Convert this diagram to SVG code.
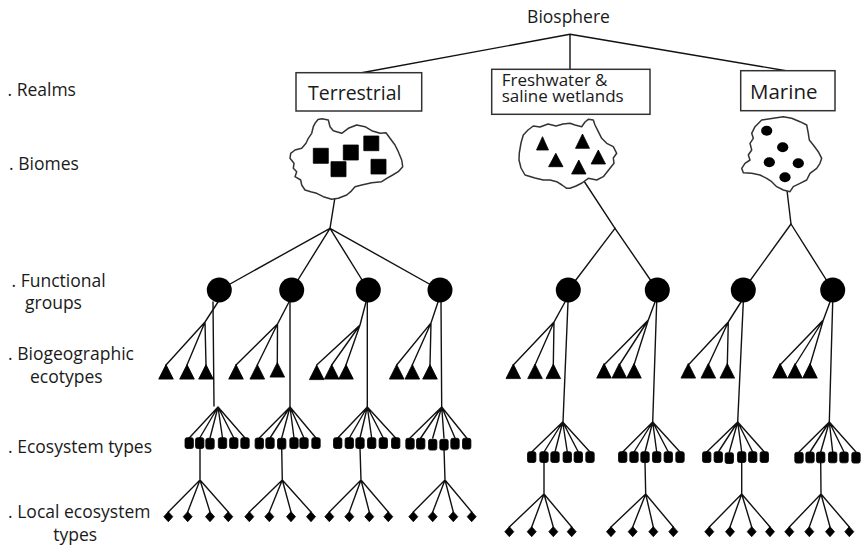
<svg xmlns="http://www.w3.org/2000/svg" width="867" height="547" viewBox="0 0 867 547">
<style>
.ln{stroke:#111;stroke-width:1.4;fill:none;stroke-linecap:round}
.box{fill:#fff;stroke:#333;stroke-width:1.5}
.cloud{fill:#fff;stroke:#333;stroke-width:1.5;stroke-linejoin:round}
.blk{fill:#000;stroke:#000;stroke-width:0.8;stroke-linejoin:round}
text{font-family:"Open Sans","Liberation Sans",sans-serif;fill:#1a1a1a}
.lbl{font-size:17.5px}
</style>
<defs>
<path id="tri" d="M0,0 L7.3,14.6 L-7.3,14.6 Z"/>
<rect id="sq" x="-4.2" y="0" width="8.4" height="10.8" rx="2"/>
<path id="dm" d="M0,0 L4.5,5 L0,10 L-4.5,5 Z"/>
</defs>

<g id="connectors" class="ln">
<path d="M570,34.3 L361.7,72.7 M570,34.3 L570,69.3 M570,34.3 L786,70.7"/>
<path d="M338.3,176.7 L330,228.3 M580,175 L615,228.3 M786,182 L791,224"/>
<path d="M330,228.3 L219.3,290 M330,228.3 L291.7,290 M330,228.3 L368.3,290 M330,228.3 L440,290"/>
<path d="M615,228.3 L568.3,290 M615,228.3 L657.3,290 M791,224 L743.3,290 M791,224 L832.7,290"/>
<path d="M218,302 L205,322 L166,365 M205,322 L187,365 M205,322 L206,365"/>
<path d="M289,302 L277.5,324 L236,365 M277.5,324 L257.3,365 M277.5,324 L277.3,363"/>
<path d="M366,302 L360,325 L316.7,365 M360,325 L331.7,365 M360,325 L346,365"/>
<path d="M438,302 L431,323 L396.7,365 M431,323 L412.3,365 M431,323 L430,365"/>
<path d="M565,302 L554,322 L513.3,365 M554,322 L535,365 M554,322 L553.3,365"/>
<path d="M655,302 L648.3,320 L604,365 M648.3,320 L619.3,365 M648.3,320 L634,365"/>
<path d="M741,302 L728.3,322 L688.3,365 M728.3,322 L708.3,365 M728.3,322 L727.3,365"/>
<path d="M830,302 L823.3,320 L780,365 M823.3,320 L795,365 M823.3,320 L810,365"/>
<path d="M213,302 L214,406 M290,302 L290,407 M367.3,302 L367.3,407 M441,302 L441.7,407 M568,302 L563,422 M656.7,302 L652.7,422 M743.3,302 L737.7,422 M832.7,302 L829.3,422"/>
<path d="M218,407 L189.2,438 M218,407 L199.7,438 M218,407 L210,438 M218,407 L222.5,438 M218,407 L233.8,438 M218,407 L245,438"/>
<path d="M290,407 L259.3,438 M290,407 L270,438 M290,407 L281.7,438 M290,407 L294,438 M290,407 L304,438 M290,407 L316,438"/>
<path d="M367.3,407 L337.7,438 M367.3,407 L349.3,438 M367.3,407 L360,438 M367.3,407 L371.7,438 M367.3,407 L383.3,438 M367.3,407 L395.7,438"/>
<path d="M441.7,407 L410,438 M441.7,407 L420.7,438 M441.7,407 L432.7,438 M441.7,407 L444,438 M441.7,407 L455,438 M441.7,407 L466.7,438"/>
<path d="M562.7,422 L531.7,452 M562.7,422 L544,452 M562.7,422 L555,452 M562.7,422 L567.3,452 M562.7,422 L578.3,452 M562.7,422 L590,452"/>
<path d="M652.7,422 L622.7,452 M652.7,422 L634,452 M652.7,422 L645,452 M652.7,422 L656.7,452 M652.7,422 L668.3,452 M652.7,422 L680,452"/>
<path d="M737.7,422 L706.7,452 M737.7,422 L718.3,452 M737.7,422 L729.3,452 M737.7,422 L741.7,452 M737.7,422 L752.7,452 M737.7,422 L764.3,452"/>
<path d="M829.3,422 L799,452 M829.3,422 L810,452 M829.3,422 L820.7,452 M829.3,422 L832.7,452 M829.3,422 L844,452 M829.3,422 L856,452"/>
<path d="M200,448 L200,480 L168.3,512 M200,480 L187.7,512 M200,480 L210,512 M200,480 L228.3,512"/>
<path d="M281.7,448 L282.3,480 L249.3,512 M282.3,480 L269.3,512 M282.3,480 L291,512 M282.3,480 L311,512"/>
<path d="M360,448 L361,480 L329.3,512 M361,480 L349.3,512 M361,480 L369.3,512 M361,480 L388.3,512"/>
<path d="M444,448 L445,480 L413.3,512 M445,480 L432.7,512 M445,480 L453.3,512 M445,480 L471.7,512"/>
<path d="M544,462 L544,494 L509.3,527 M544,494 L531.7,527 M544,494 L553.3,527 M544,494 L571.7,527"/>
<path d="M645,462 L645.7,494 L611,527 M645.7,494 L632.7,527 M645.7,494 L653.3,527 M645.7,494 L673.3,527"/>
<path d="M741.7,462 L741.7,494 L709.3,527 M741.7,494 L730,527 M741.7,494 L751.7,527 M741.7,494 L770,527"/>
<path d="M820.7,462 L821,494 L789.3,527 M821,494 L809.3,527 M821,494 L830,527 M821,494 L849.3,527"/>
</g>

<g id="labels" class="lbl">
<text x="7.5" y="95.7">. Realms</text>
<text x="9.1" y="170">. Biomes</text>
<text x="11.5" y="286.7">. Functional</text>
<text x="25" y="309">groups</text>
<text x="8.1" y="360">. Biogeographic</text>
<text x="30" y="383.3">ecotypes</text>
<text x="8.1" y="453.3">. Ecosystem types</text>
<text x="8.1" y="518.3">. Local ecosystem</text>
<text x="53.3" y="541">types</text>
</g>

<g id="biosphere">
<text x="568.5" y="22.7" text-anchor="middle" style="font-size:17.5px">Biosphere</text>
</g>

<g id="realm-terrestrial">
<rect class="box" x="296" y="72.7" width="125.7" height="38.3"/>
<text x="308" y="100" style="font-size:19.5px">Terrestrial</text>
</g>
<g id="realm-freshwater">
<rect class="box" x="491.7" y="69.3" width="158.3" height="45"/>
<text style="font-size:17px"><tspan x="501.7" y="86">Freshwater &amp;</tspan><tspan x="501.7" y="101.7">saline wetlands</tspan></text>
</g>
<g id="realm-marine">
<rect class="box" x="740.7" y="70.7" width="94.3" height="40"/>
<text x="750" y="99.3" style="font-size:20.5px">Marine</text>
</g>

<g id="biome-terrestrial">
<path class="cloud" d="M315,123.3 L318,119.5 L322,118.8 L328.3,120 L330,126.7 L333.3,130.7 L341.7,133.3 L348.3,128.3 L356.7,125 L365,126.7 L371.7,130.7 L380,133.3 L386,132.7 L390,138.3 L395,145 L398.3,151.7 L401.7,160 L402.7,166.7 L398.3,171.7 L392.7,175 L386.7,178.3 L381.7,181.7 L371.7,182.7 L361.7,185 L355,186.7 L350.7,191.7 L346.7,195 L338.3,198.3 L331.7,199.3 L323.3,196.7 L316.7,193.3 L310.7,191.7 L305,190 L301.7,185 L300.7,180 L295,176.7 L296.7,171.7 L293.3,168.3 L294,163.3 L290,158.3 L290.7,153.3 L295,150 L301.7,148.3 L306,143.3 L308.3,138.3 L311.7,133.3 L313.3,126.7 Z"/>
<g class="blk">
<rect x="313.3" y="148.3" width="15" height="15"/>
<rect x="343.3" y="145" width="15" height="15"/>
<rect x="363.8" y="136" width="15" height="14.7"/>
<rect x="331" y="161.7" width="15" height="15"/>
<rect x="371" y="159.3" width="15" height="14.7"/>
</g>
</g>

<g id="biome-freshwater">
<path class="cloud" d="M519.3,153 L521,143 L523.3,135 L528,130 L533.3,126 L540,127 L548,124 L556,126 L563,124 L570,123.3 L575,125 L581.7,126.7 L585,122 L588.3,119.3 L593.3,120 L595,125 L598.3,131.7 L601.7,138.3 L606.7,143.3 L613.3,146.7 L616.7,153.3 L613.3,158 L614,163.3 L610,168.3 L603.3,176.7 L596.7,180 L588.3,178.3 L582,183 L576,186 L570,188.3 L566.7,188.3 L562,185 L556.7,181.7 L550,180 L543.3,180 L535,178 L525,175 L521,168 L519,160 Z"/>
<g class="blk">
<path d="M542.5,136.7 L548.5,150 L536.5,150 Z"/>
<path d="M555.8,153.3 L563,166.7 L548.6,166.7 Z"/>
<path d="M582.5,134 L589.5,148.3 L575.5,148.3 Z"/>
<path d="M598.3,150 L605.5,164 L591.1,164 Z"/>
<path d="M578.8,160 L586,174 L571.6,174 Z"/>
</g>
</g>

<g id="biome-marine">
<path class="cloud" d="M755,126.7 L761.7,120 L773.3,118.3 L783.3,116.7 L791.7,118.3 L800,121.7 L806.7,125 L808.3,133.3 L809.3,140 L813.3,145 L818.3,151.7 L821.7,158.3 L820,163.3 L816.7,168.3 L810,173.3 L806.7,180 L800,183.3 L793.3,186.7 L790,191.7 L783.3,190 L776.7,186.7 L771.7,181.7 L766.7,178.3 L760,175 L751.7,173.3 L743.3,172.7 L741.7,168.3 L745,163.3 L750,160 L748.3,155 L751.7,150 L750,143.3 L753.3,138.3 L751.7,133.3 Z"/>
<g fill="#000">
<ellipse cx="766.7" cy="130.7" rx="5.6" ry="5"/>
<ellipse cx="782.7" cy="147.3" rx="5.6" ry="5"/>
<ellipse cx="769.3" cy="162.3" rx="5.6" ry="5"/>
<ellipse cx="798.3" cy="163.3" rx="5.6" ry="5"/>
<ellipse cx="785" cy="177.3" rx="5.6" ry="5"/>
</g>
</g>

<g id="functional-groups" fill="#000">
<circle cx="219.3" cy="290" r="12.5"/>
<circle cx="291.7" cy="290" r="12.5"/>
<circle cx="368.3" cy="290" r="12.5"/>
<circle cx="440" cy="290" r="12.5"/>
<circle cx="568.3" cy="290" r="12.5"/>
<circle cx="657.3" cy="290" r="12.5"/>
<circle cx="743.3" cy="290" r="12.5"/>
<circle cx="832.7" cy="290" r="12.5"/>
</g>

<g id="biogeographic-ecotypes" class="blk">
<use href="#tri" x="166" y="364.5"/><use href="#tri" x="187" y="364.5"/><use href="#tri" x="206" y="364.5"/>
<use href="#tri" x="236" y="364.5"/><use href="#tri" x="257.3" y="364.5"/><use href="#tri" x="277.3" y="362.5"/>
<use href="#tri" x="316.7" y="365"/><use href="#tri" x="331.7" y="364.5"/><use href="#tri" x="346" y="364.5"/>
<use href="#tri" x="396.7" y="364.5"/><use href="#tri" x="412.3" y="364.5"/><use href="#tri" x="430" y="364.5"/>
<use href="#tri" x="513.3" y="364"/><use href="#tri" x="535" y="364"/><use href="#tri" x="553.3" y="364"/>
<use href="#tri" x="604" y="363.5"/><use href="#tri" x="619.3" y="363.5"/><use href="#tri" x="634" y="363.5"/>
<use href="#tri" x="688.3" y="363.5"/><use href="#tri" x="708.3" y="363.5"/><use href="#tri" x="727.3" y="363.5"/>
<use href="#tri" x="780" y="363.5"/><use href="#tri" x="795" y="363.5"/><use href="#tri" x="810" y="363.5"/>
</g>

<g id="ecosystem-types" class="blk">
<use href="#sq" x="189.2" y="437.7"/><use href="#sq" x="199.7" y="437.7"/><use href="#sq" x="210" y="438.3"/><use href="#sq" x="222.5" y="437.7"/><use href="#sq" x="233.8" y="437.7"/><use href="#sq" x="245" y="437.7"/>
<use href="#sq" x="259.3" y="438"/><use href="#sq" x="270" y="437.7"/><use href="#sq" x="281.7" y="438.3"/><use href="#sq" x="294" y="437.7"/><use href="#sq" x="304" y="437.7"/><use href="#sq" x="316" y="437.7"/>
<use href="#sq" x="337.7" y="437.7"/><use href="#sq" x="349.3" y="437.7"/><use href="#sq" x="360" y="437.7"/><use href="#sq" x="371.7" y="437.7"/><use href="#sq" x="383.3" y="437.7"/><use href="#sq" x="395.7" y="437.7"/>
<use href="#sq" x="410" y="438.3"/><use href="#sq" x="420.7" y="438.3"/><use href="#sq" x="432.7" y="439.3"/><use href="#sq" x="444" y="439.3"/><use href="#sq" x="455" y="438.3"/><use href="#sq" x="466.7" y="438.3"/>
<use href="#sq" x="531.7" y="451.7"/><use href="#sq" x="544" y="451.7"/><use href="#sq" x="555" y="451.7"/><use href="#sq" x="567.3" y="451.7"/><use href="#sq" x="578.3" y="451.7"/><use href="#sq" x="590" y="451.7"/>
<use href="#sq" x="622.7" y="451.7"/><use href="#sq" x="634" y="451.7"/><use href="#sq" x="645" y="451.7"/><use href="#sq" x="656.7" y="451.7"/><use href="#sq" x="668.3" y="451.7"/><use href="#sq" x="680" y="451.7"/>
<use href="#sq" x="706.7" y="451.7"/><use href="#sq" x="718.3" y="451.7"/><use href="#sq" x="729.3" y="452.7"/><use href="#sq" x="741.7" y="451.7"/><use href="#sq" x="752.7" y="451.7"/><use href="#sq" x="764.3" y="451.7"/>
<use href="#sq" x="799" y="452.3"/><use href="#sq" x="810" y="452"/><use href="#sq" x="820.7" y="452"/><use href="#sq" x="832.7" y="452"/><use href="#sq" x="844" y="452"/><use href="#sq" x="856" y="452.3"/>
</g>

<g id="local-ecosystem-types" class="blk">
<use href="#dm" x="168.3" y="511.7"/><use href="#dm" x="187.7" y="511.7"/><use href="#dm" x="210" y="511.7"/><use href="#dm" x="228.3" y="511.7"/>
<use href="#dm" x="249.3" y="511.7"/><use href="#dm" x="269.3" y="511.7"/><use href="#dm" x="291" y="511.7"/><use href="#dm" x="311" y="511.7"/>
<use href="#dm" x="329.3" y="511.7"/><use href="#dm" x="349.3" y="511.7"/><use href="#dm" x="369.3" y="511.7"/><use href="#dm" x="388.3" y="511.7"/>
<use href="#dm" x="413.3" y="511.7"/><use href="#dm" x="432.7" y="511.7"/><use href="#dm" x="453.3" y="511.7"/><use href="#dm" x="471.7" y="511.7"/>
<use href="#dm" x="509.3" y="526.7"/><use href="#dm" x="531.7" y="526.7"/><use href="#dm" x="553.3" y="526.7"/><use href="#dm" x="571.7" y="526.7"/>
<use href="#dm" x="611" y="526.7"/><use href="#dm" x="632.7" y="526.7"/><use href="#dm" x="653.3" y="526.7"/><use href="#dm" x="673.3" y="526.7"/>
<use href="#dm" x="709.3" y="526.7"/><use href="#dm" x="730" y="526.7"/><use href="#dm" x="751.7" y="526.7"/><use href="#dm" x="770" y="526.7"/>
<use href="#dm" x="789.3" y="526.7"/><use href="#dm" x="809.3" y="526.7"/><use href="#dm" x="830" y="526.7"/><use href="#dm" x="849.3" y="526.7"/>
</g>
</svg>
